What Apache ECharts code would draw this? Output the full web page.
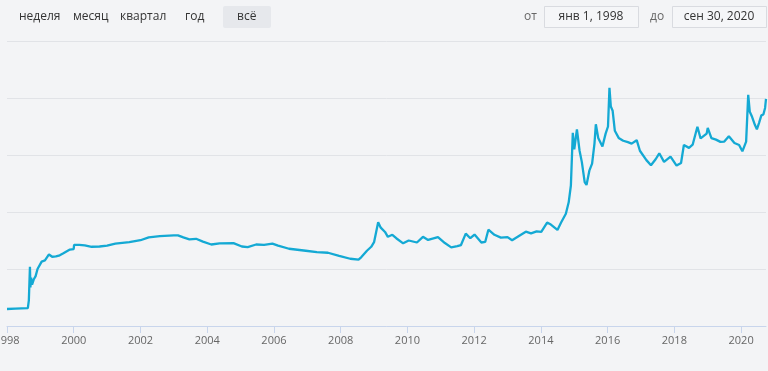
<!DOCTYPE html>
<html>
<head>
<meta charset="utf-8">
<script src="https://cdn.jsdelivr.net/npm/echarts@6/dist/echarts.min.js"></script>
<style>
html,body{margin:0;padding:0;background:#f3f4f6;}
#chart{width:768px;height:371px;}
</style>
</head>
<body>
<div id="chart"></div>
<script>
// ---- data ----
const dates = [
'1998-01-01','1998-04-01','1998-08-17','1998-08-28','1998-09-09','1998-09-14','1998-09-22','1998-10-02','1998-10-20','1998-11-10',
'1998-12-01','1998-12-20','1999-01-15','1999-02-20','1999-04-05','1999-05-10','1999-06-20','1999-08-01','1999-09-10','1999-11-20',
'1999-12-31','2000-01-05','2000-03-01','2000-05-01','2000-07-15','2000-10-10','2001-01-01','2001-04-01','2001-09-01','2002-01-01',
'2002-04-01','2002-08-01','2003-01-01','2003-02-15','2003-04-15','2003-06-20','2003-09-01','2003-11-15','2004-02-15','2004-05-15',
'2004-10-15','2005-01-15','2005-03-20','2005-06-20','2005-09-15','2005-12-15','2006-02-15','2006-06-15','2006-12-15','2007-04-15',
'2007-08-15','2007-12-15','2008-04-15','2008-07-15','2008-08-15','2008-10-15','2008-12-01','2009-01-01','2009-02-15','2009-03-15',
'2009-05-01','2009-06-01','2009-07-20','2009-09-01','2009-11-15','2010-01-15','2010-04-15','2010-06-20','2010-08-15','2010-12-01',
'2011-02-15','2011-04-25','2011-07-01','2011-08-10','2011-10-01','2011-11-20','2012-01-05','2012-03-20','2012-05-01','2012-06-05',
'2012-08-10','2012-10-20','2013-01-01','2013-02-20','2013-05-10','2013-07-20','2013-09-15','2013-11-15','2014-01-05','2014-03-10',
'2014-04-20','2014-07-01','2014-08-10','2014-10-01','2014-11-01','2014-11-25','2014-12-16','2015-01-01','2015-01-30','2015-02-28',
'2015-03-25','2015-04-25','2015-05-15','2015-06-15','2015-07-15','2015-08-10','2015-08-25','2015-09-20','2015-11-05','2015-12-10',
'2016-01-05','2016-01-21','2016-02-05','2016-02-25','2016-03-20','2016-05-01','2016-06-20','2016-08-10','2016-09-20','2016-11-15',
'2016-12-20','2017-03-01','2017-04-20','2017-06-10','2017-07-20','2017-09-10','2017-11-20','2018-01-25','2018-03-15','2018-04-15',
'2018-06-10','2018-07-20','2018-09-10','2018-10-15','2018-12-20','2019-01-01','2019-02-10','2019-04-01','2019-05-20','2019-07-01',
'2019-08-20','2019-10-20','2019-12-10','2020-01-15','2020-02-25','2020-03-19','2020-04-05','2020-04-30','2020-06-01','2020-06-22',
'2020-07-15','2020-08-10','2020-09-01','2020-09-20','2020-09-30'
];
const rates = [
5.96,6.1,6.25,9.0,20.8,13.5,17.0,14.5,16.3,17.5,
20.0,20.7,22.6,23.0,25.1,24.3,24.4,24.8,25.5,26.8,
27.0,28.5,28.5,28.3,27.8,27.9,28.2,28.9,29.4,30.1,
31.1,31.5,31.8,31.8,31.1,30.4,30.6,29.6,28.6,29.0,
29.1,27.9,27.7,28.6,28.5,28.9,28.2,27.1,26.4,25.9,
25.7,24.6,23.6,23.3,24.2,26.4,27.8,29.4,36.4,34.5,
33.0,31.3,32.0,30.8,29.0,30.0,29.3,31.3,30.2,31.2,
29.1,27.6,28.0,28.4,32.4,30.8,32.1,29.3,29.5,33.8,
32.0,31.0,31.2,30.1,31.7,33.1,32.5,33.2,33.0,36.3,
35.6,33.7,36.3,39.4,43.4,49.3,67.8,62.0,69.0,61.5,
57.5,50.5,49.5,54.5,57.0,64.0,70.8,66.0,63.0,67.5,
70.0,83.6,77.0,75.5,68.5,66.0,65.0,64.5,64.0,65.2,
61.5,58.2,56.4,58.5,60.6,57.6,59.4,56.3,57.2,63.5,
62.5,63.6,69.9,65.8,67.5,69.5,65.9,65.4,64.6,64.7,
66.6,64.2,63.5,61.3,64.7,81.1,75.2,73.4,70.5,69.0,
71.2,73.9,74.2,76.5,79.7
];
const tickYears = [1998,2000,2002,2004,2006,2008,2010,2012,2014,2016,2018,2020];
const startDate = '1998-01-01', endDate = '2020-09-30';
const periodButtons = ['неделя','месяц','квартал','год','всё'];
const fromLabel = 'от', toLabel = 'до';
const fromDate = 'янв 1, 1998', toDate = 'сен 30, 2020';

// ---- helpers ----
function decYear(s){
  const p = s.split('-').map(Number);
  const t = Date.UTC(p[0], p[1]-1, p[2]);
  const a = Date.UTC(p[0],0,1), b = Date.UTC(p[0]+1,0,1);
  return p[0] + (t-a)/(b-a);
}

const chart = echarts.init(document.getElementById('chart'), null, {renderer:'canvas'});
const seriesData = dates.map((d,i)=>[decYear(d), rates[i]]);
const btnX = [19, 73, 120, 185, 237];
const font = '"Open Sans", sans-serif';

const graphics = [];
graphics.push({type:'rect', shape:{x:223,y:6,width:48,height:22,r:2}, style:{fill:'#e6e8ec'}, silent:true});
periodButtons.forEach((t,i)=>{
  graphics.push({type:'text', x:btnX[i], y:17, style:{text:t, fill:'#333', font:'12px '+font, textVerticalAlign:'middle'}});
});
graphics.push({type:'text', x:524, y:17, style:{text:fromLabel, fill:'#666', font:'12px '+font, textVerticalAlign:'middle'}});
graphics.push({type:'rect', shape:{x:544.5,y:6.5,width:94,height:21}, style:{fill:'#f5f6f8', stroke:'#d9dbe0', lineWidth:1}});
graphics.push({type:'text', x:591, y:17, style:{text:fromDate, fill:'#333', font:'12px '+font, textAlign:'center', textVerticalAlign:'middle'}});
graphics.push({type:'text', x:650, y:17, style:{text:toLabel, fill:'#666', font:'12px '+font, textVerticalAlign:'middle'}});
graphics.push({type:'rect', shape:{x:672.5,y:6.5,width:94,height:21}, style:{fill:'#f5f6f8', stroke:'#d9dbe0', lineWidth:1}});
graphics.push({type:'text', x:719, y:17, style:{text:toDate, fill:'#333', font:'12px '+font, textAlign:'center', textVerticalAlign:'middle'}});

chart.setOption({
  backgroundColor:'#f3f4f6',
  animation:false,
  grid:{left:7, right:2, top:41, bottom:45, containLabel:false, outerBoundsMode:'none'},
  xAxis:{
    type:'value',
    min:decYear(startDate),
    max:decYear(endDate),
    axisLine:{show:true, lineStyle:{color:'#c8d5ec', width:1}},
    axisTick:{show:true, length:7, lineStyle:{color:'#c8d5ec'}, customValues:tickYears},
    axisLabel:{
      customValues:tickYears,
      color:'#666', fontSize:11, fontFamily:'"Open Sans", sans-serif', margin:9,
      hideOverlap:false,
      formatter:(v)=> String(Math.round(v))
    },
    splitLine:{show:false}
  },
  yAxis:{
    type:'value', min:0, max:100, interval:20,
    axisLine:{show:false}, axisTick:{show:false}, axisLabel:{show:false},
    splitLine:{show:true, lineStyle:{color:'#e1e3e7', width:1}}
  },
  graphic:graphics,
  series:[{
    type:'line',
    data:seriesData,
    showSymbol:false,
    lineStyle:{color:'#14a9d4', width:2.3},
    itemStyle:{color:'#14a9d4'}
  }]
});
</script>
</body>
</html>
